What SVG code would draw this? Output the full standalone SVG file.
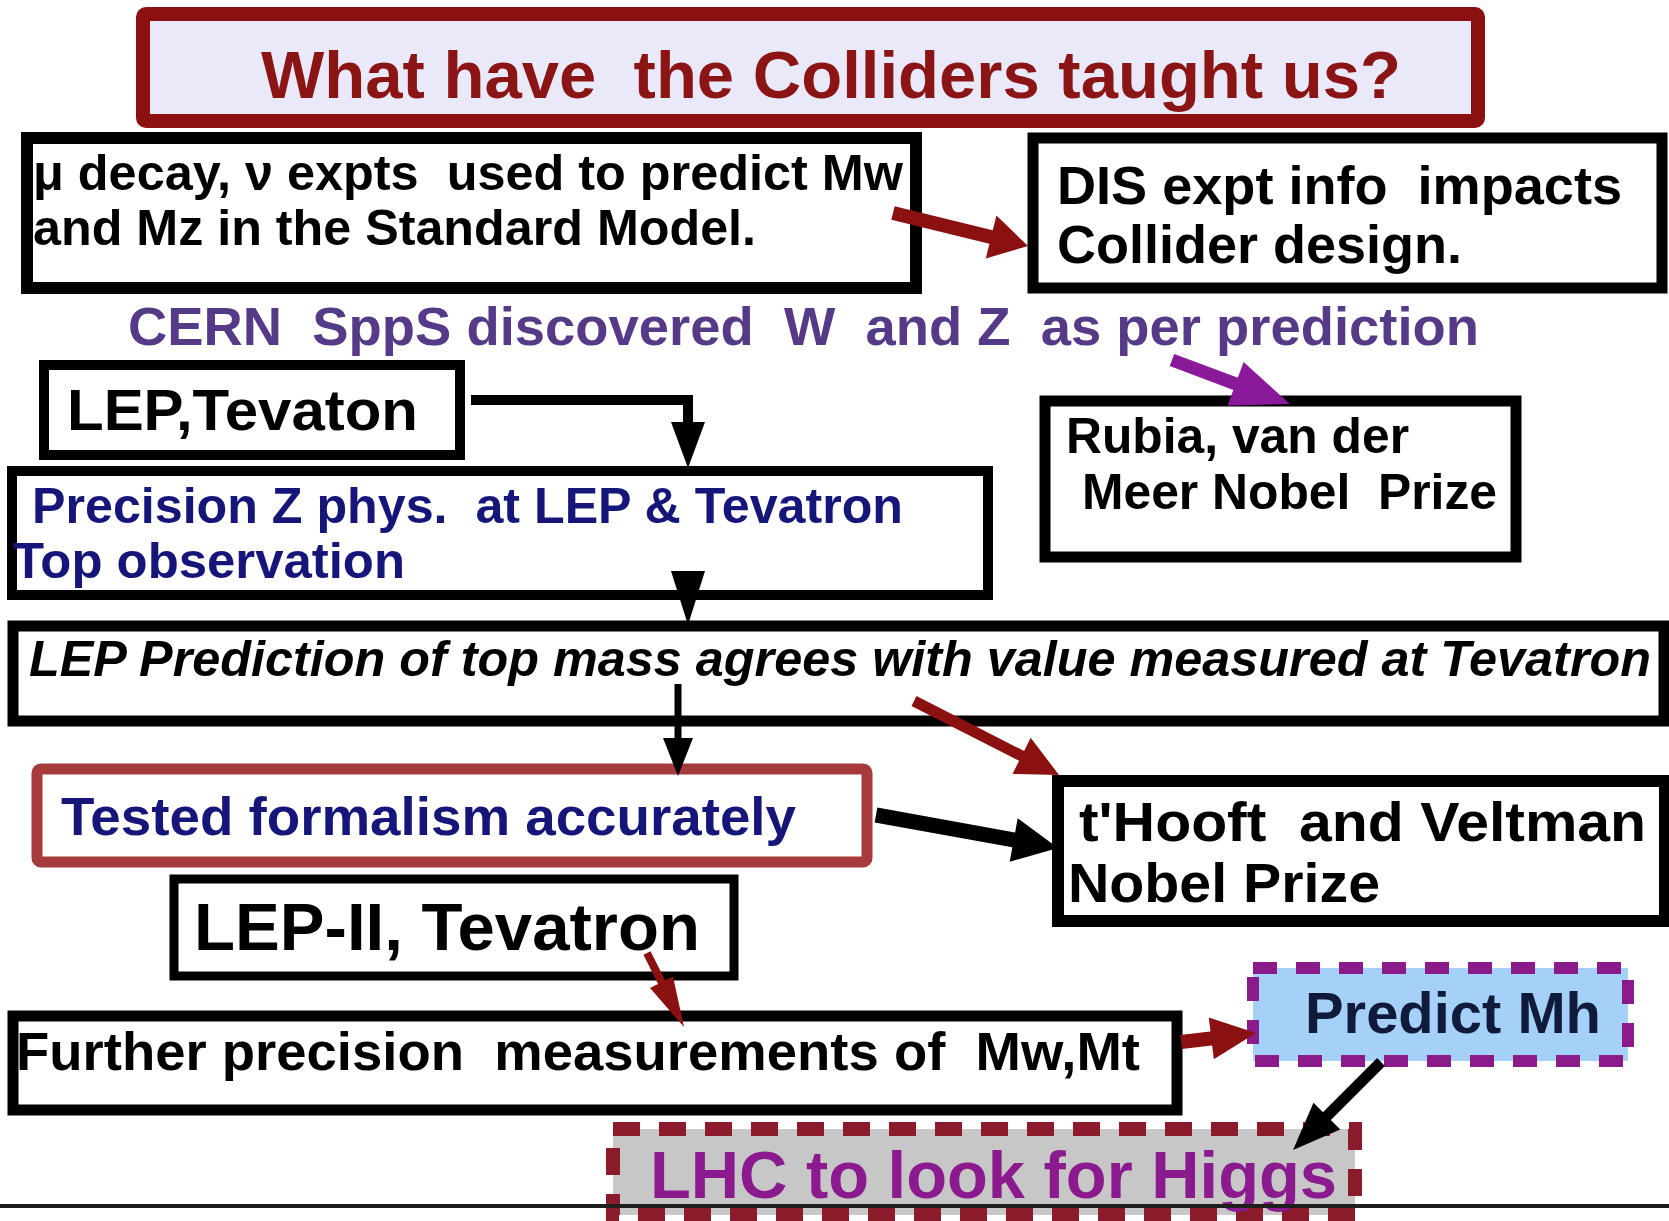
<svg xmlns="http://www.w3.org/2000/svg" width="1669" height="1221" viewBox="0 0 1669 1221" xml:space="preserve">
<style>
text{font-family:"Liberation Sans",Arial,Helvetica,sans-serif;font-weight:bold;white-space:pre;}
.box{fill:#ffffff;stroke:#000000;}
.blk{fill:#000000;}
.navy{fill:#16167a;}
.shaft{fill:none;stroke-linecap:butt;}
</style>
<rect width="1669" height="1221" fill="#ffffff"/>
<g id="title">
<rect x="143" y="14" width="1335" height="107" rx="3" fill="#e9e9f9" stroke="#8b1111" stroke-width="14"/>
<text x="261" y="98" font-size="67" fill="#8b1414" textLength="1140" lengthAdjust="spacingAndGlyphs">What have  the Colliders taught us?</text>
</g>
<g id="node-mu">
<rect class="box" x="27" y="138" width="889" height="150" stroke-width="12"/>
<text class="blk" x="33" y="190" font-size="50" textLength="870" lengthAdjust="spacingAndGlyphs">μ decay, ν expts  used to predict Mw</text>
<text class="blk" x="33" y="245" font-size="50" textLength="723" lengthAdjust="spacingAndGlyphs">and Mz in the Standard Model.</text>
</g>
<g id="node-dis">
<rect class="box" x="1033" y="138" width="629" height="150" stroke-width="11"/>
<text class="blk" x="1057" y="204" font-size="54" textLength="565" lengthAdjust="spacingAndGlyphs">DIS expt info  impacts</text>
<text class="blk" x="1057" y="263" font-size="54" textLength="405" lengthAdjust="spacingAndGlyphs">Collider design.</text>
</g>
<g id="node-cern">
<text x="128" y="345" font-size="54" fill="#553a88" textLength="1351" lengthAdjust="spacingAndGlyphs">CERN  SppS discovered  W  and Z  as per prediction</text>
</g>
<g id="node-lep">
<rect class="box" x="44" y="365" width="416" height="90" stroke-width="10"/>
<text class="blk" x="67" y="430" font-size="58" textLength="351" lengthAdjust="spacingAndGlyphs">LEP,Tevaton</text>
</g>
<g id="node-rubia">
<rect class="box" x="1045" y="401" width="471" height="156" stroke-width="11"/>
<text class="blk" x="1066" y="453" font-size="50" textLength="343" lengthAdjust="spacingAndGlyphs">Rubia, van der</text>
<text class="blk" x="1082" y="509" font-size="50" textLength="415" lengthAdjust="spacingAndGlyphs">Meer Nobel  Prize</text>
</g>
<g id="node-precision">
<rect class="box" x="12" y="471" width="976" height="124" stroke-width="10"/>
<text class="navy" x="32" y="523" font-size="50" textLength="871" lengthAdjust="spacingAndGlyphs">Precision Z phys.  at LEP &amp; Tevatron</text>
<text class="navy" x="13" y="578" font-size="50" textLength="392" lengthAdjust="spacingAndGlyphs">Top observation</text>
</g>
<g id="node-lep-prediction">
<rect class="box" x="13" y="626" width="1651" height="95" stroke-width="11"/>
<text class="blk" x="29" y="676" font-size="50" font-style="italic" textLength="1622" lengthAdjust="spacingAndGlyphs">LEP Prediction of top mass agrees with value measured at Tevatron</text>
</g>
<g id="node-tested">
<rect x="37" y="769" width="830" height="93" rx="4" fill="#ffffff" stroke="#a63a3d" stroke-width="11"/>
<text class="navy" x="61" y="835" font-size="54" textLength="735" lengthAdjust="spacingAndGlyphs">Tested formalism accurately</text>
</g>
<g id="node-thooft">
<rect class="box" x="1058" y="781" width="607" height="140" stroke-width="12"/>
<text class="blk" x="1079" y="841" font-size="55" textLength="567" lengthAdjust="spacingAndGlyphs">t'Hooft  and Veltman</text>
<text class="blk" x="1068" y="902" font-size="55" textLength="312" lengthAdjust="spacingAndGlyphs">Nobel Prize</text>
</g>
<g id="node-lep2">
<rect class="box" x="174" y="879" width="560" height="97" stroke-width="9"/>
<text class="blk" x="194" y="950" font-size="66" textLength="506" lengthAdjust="spacingAndGlyphs">LEP-II, Tevatron</text>
</g>
<g id="node-further">
<rect class="box" x="13" y="1016" width="1164" height="94" stroke-width="11"/>
<text class="blk" x="16" y="1070" font-size="54" textLength="1124" lengthAdjust="spacingAndGlyphs">Further precision  measurements of  Mw,Mt</text>
</g>
<g id="node-predict">
<rect x="1253" y="968" width="375" height="93" fill="#a5d0f7" stroke="#8b1a8b" stroke-width="12" stroke-dasharray="24 19"/>
<text x="1305" y="1033" font-size="58" fill="#101a3a" textLength="296" lengthAdjust="spacingAndGlyphs">Predict Mh</text>
</g>
<g id="node-lhc">
<rect x="613" y="1129" width="742" height="86" fill="#c7c7c7" stroke="#8b1a2a" stroke-width="14" stroke-dasharray="27 19"/>
<text x="650" y="1198" font-size="67" fill="#8b1a8e" textLength="687" lengthAdjust="spacingAndGlyphs">LHC to look for Higgs</text>
</g>
<g id="connectors">
<!-- mu -> DIS -->
<line class="shaft" x1="893" y1="213" x2="993" y2="237.5" stroke="#8b1111" stroke-width="14"/>
<polygon points="985.8,258.5 996.4,215.5 1028,246" fill="#8b1111"/>
<!-- CERN -> Rubia -->
<line class="shaft" x1="1172" y1="360" x2="1237" y2="384.3" stroke="#8b1a9b" stroke-width="13"/>
<polygon points="1227.6,405.5 1243.6,362.1 1290,404" fill="#8b1a9b"/>
<!-- LEP,Tevaton -> Precision -->
<path class="shaft" d="M471,400 H688 V425" stroke="#000" stroke-width="10" stroke-linejoin="miter"/>
<polygon points="671,422 705,422 688,468" fill="#000"/>
<!-- Precision -> LEP Prediction -->
<polygon points="671,571 705,571 688,625" fill="#000"/>
<!-- LEP Prediction -> Tested -->
<line class="shaft" x1="678" y1="684" x2="678" y2="740" stroke="#000" stroke-width="7"/>
<polygon points="663,738 693,738 678,776" fill="#000"/>
<!-- LEP Prediction -> t'Hooft -->
<line class="shaft" x1="914" y1="701" x2="1023" y2="756.6" stroke="#8b1111" stroke-width="11"/>
<polygon points="1012.5,774 1030.7,737.8 1059,775" fill="#8b1111"/>
<!-- Tested -> t'Hooft -->
<line class="shaft" x1="876" y1="815" x2="1015" y2="840.2" stroke="#000" stroke-width="15"/>
<polygon points="1009.7,861.7 1017.7,818.3 1058,848" fill="#000"/>
<!-- LEP-II -> Further -->
<line class="shaft" x1="647" y1="953" x2="662.5" y2="984" stroke="#8b1111" stroke-width="8"/>
<polygon points="650,988 673,976.5 684,1027" fill="#8b1111"/>
<!-- Further -> Predict Mh -->
<line class="shaft" x1="1181" y1="1042" x2="1213" y2="1038.2" stroke="#8b1111" stroke-width="14"/>
<polygon points="1213.8,1059.3 1208.8,1017.5 1256,1033" fill="#8b1111"/>
<!-- Predict Mh -> LHC -->
<line class="shaft" x1="1381" y1="1062" x2="1325.5" y2="1117.5" stroke="#000" stroke-width="11"/>
<polygon points="1313.5,1102.7 1340.3,1129.5 1293,1150" fill="#000"/>
</g>
<line x1="0" y1="1206" x2="1669" y2="1206" stroke="#1e1e1e" stroke-width="4"/>
</svg>
